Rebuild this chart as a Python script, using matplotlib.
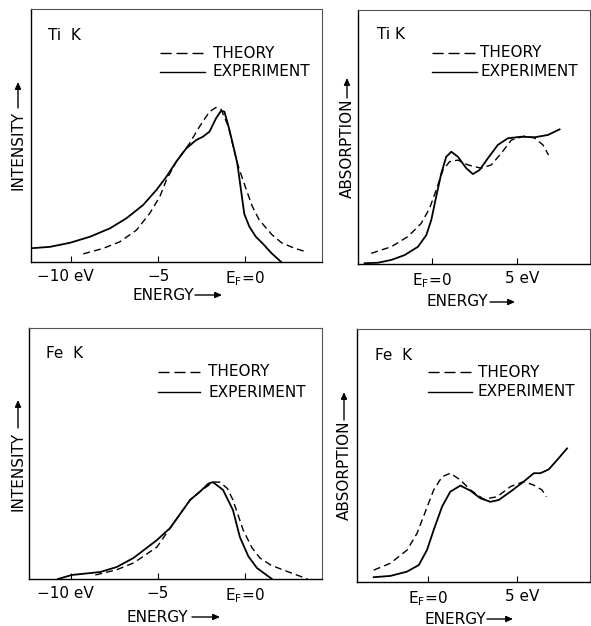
import numpy as np
import matplotlib
matplotlib.use('Agg')
import matplotlib.pyplot as plt
import matplotlib.transforms as mtransforms

# ---- data (energy in eV, intensity in arbitrary units) ----
ti_emis_exp_e = [-12.34, -11.2, -10.06, -8.91, -7.77, -6.82, -5.87, -5.1, -4.53, -3.96, -3.39,
                 -2.82, -2.44, -2.06, -1.68, -1.39, -1.2, -0.91, -0.46, -0.06, 0.23, 0.6,
                 0.97, 1.5, 2.06]
ti_emis_exp_i = [0.054, 0.06, 0.076, 0.1, 0.133, 0.173, 0.225, 0.285, 0.337, 0.397, 0.449,
                 0.482, 0.495, 0.515, 0.568, 0.598, 0.594, 0.522, 0.39, 0.19, 0.14, 0.1,
                 0.075, 0.035, 0.0]
ti_emis_th_e = [-9.3, -8.15, -7.2, -6.25, -5.49, -4.91, -4.53, -3.96, -3.2, -2.63, -2.06,
                -1.68, -1.39, -1.0, -0.74, -0.46, 0.06, 0.4, 0.8, 1.54, 2.1, 2.8, 3.5]
ti_emis_th_i = [0.032, 0.054, 0.08, 0.126, 0.192, 0.258, 0.324, 0.397, 0.469, 0.535, 0.594,
                0.611, 0.603, 0.54, 0.47, 0.39, 0.285, 0.22, 0.166, 0.107, 0.075, 0.055, 0.04]

ti_abs_exp_e = [-3.96, -3.18, -2.39, -1.61, -0.82, -0.33, -0.04, 0.25, 0.55, 0.84, 1.14, 1.53,
                2.02, 2.41, 2.8, 3.29, 3.88, 4.47, 5.25, 6.04, 6.82, 7.51]
ti_abs_exp_i = [0.003, 0.005, 0.016, 0.035, 0.068, 0.114, 0.173, 0.265, 0.357, 0.422, 0.442,
                0.422, 0.377, 0.354, 0.37, 0.416, 0.469, 0.495, 0.501, 0.499, 0.508, 0.53]
ti_abs_th_e = [-3.57, -2.39, -1.41, -0.63, -0.14, 0.25, 0.65, 1.04, 1.53, 2.12, 2.9, 3.49,
               4.08, 4.67, 5.45, 6.04, 6.53, 6.86]
ti_abs_th_i = [0.042, 0.068, 0.108, 0.16, 0.219, 0.291, 0.37, 0.403, 0.409, 0.39, 0.377, 0.39,
               0.436, 0.488, 0.504, 0.496, 0.469, 0.429]

fe_emis_exp_e = [-10.75, -9.95, -8.3, -7.36, -6.4, -5.06, -4.3, -3.15, -2.6, -2.1, -1.84,
                 -1.26, -0.69, -0.29, 0.2, 0.69, 1.55]
fe_emis_exp_i = [0.0, 0.016, 0.028, 0.048, 0.084, 0.155, 0.203, 0.315, 0.347, 0.38, 0.386,
                 0.355, 0.275, 0.167, 0.09, 0.044, 0.0]
fe_emis_th_e = [-8.6, -7.4, -6.4, -5.06, -4.3, -3.15, -2.6, -1.84, -1.44, -1.0, -0.69, -0.1,
                0.4, 0.86, 1.5, 2.2, 3.6]
fe_emis_th_i = [0.016, 0.036, 0.064, 0.127, 0.203, 0.315, 0.347, 0.386, 0.386, 0.36, 0.315,
                0.195, 0.125, 0.084, 0.055, 0.036, 0.0]

fe_abs_exp_e = [-3.05, -2.12, -1.18, -0.52, -0.06, 0.32, 0.79, 1.25, 1.82, 2.38, 2.94, 3.5,
                3.97, 4.63, 5.38, 5.94, 6.31, 6.78, 7.25, 7.81]
fe_abs_exp_i = [0.019, 0.024, 0.041, 0.067, 0.126, 0.206, 0.298, 0.357, 0.381, 0.361, 0.331,
                0.317, 0.324, 0.357, 0.397, 0.43, 0.43, 0.445, 0.482, 0.528]
fe_abs_th_e = [-3.05, -2.12, -1.18, -0.62, -0.15, 0.32, 0.79, 1.25, 1.82, 2.38, 3.13, 3.88,
               4.63, 5.38, 5.94, 6.4, 6.65]
fe_abs_th_i = [0.047, 0.074, 0.126, 0.192, 0.278, 0.364, 0.416, 0.43, 0.403, 0.364, 0.327,
               0.337, 0.377, 0.397, 0.383, 0.364, 0.337]

emis_ticks = [-10, -5, 0]
emis_ticklabels = ['\u221210 eV', '\u22125', 'E$_\\mathregular{F}$=0']
abs_ticks = [0, 5]
abs_ticklabels = ['E$_\\mathregular{F}$=0', '5 eV']

W, H = 591, 626
plt.rcParams['font.family'] = ['DejaVu Sans']
plt.rcParams['font.size'] = 11
plt.rcParams['lines.scale_dashes'] = False

fig = plt.figure(figsize=(W / 100, H / 100), dpi=100)

DASH = (0, (5, 3))


def make_ax(left, right, top, bottom):
    return fig.add_axes([left / W, 1 - bottom / H, (right - left) / W, (bottom - top) / H])


def style_ax(ax, xlim, ticks, labels, offsets):
    ax.set_xlim(xlim)
    ax.set_ylim(0, 1)
    ax.set_yticks([])
    ax.set_xticks(ticks)
    ax.set_xticklabels(labels)
    ax.tick_params(axis='x', direction='in', length=4, width=0.8, pad=5, labelsize=11)
    for lab, dx in zip(ax.get_xticklabels(), offsets):
        lab.set_transform(lab.get_transform() +
                          mtransforms.ScaledTranslation(dx / 100, 0, fig.dpi_scale_trans))
    for s in ['left', 'bottom']:
        ax.spines[s].set_linewidth(1.0)
    for s in ['top', 'right']:
        ax.spines[s].set_linewidth(0.8)
        ax.spines[s].set_color('#555555')


def legend_block(ax, name, name_xy, x0, x1, y_th, y_ex, tx):
    ax.text(name_xy[0], name_xy[1], name, transform=ax.transAxes, ha='left', va='center')
    ax.plot([x0, x1], [y_th, y_th], transform=ax.transAxes, color='black', lw=1.0,
            linestyle=(0, (8, 3.5)))
    ax.plot([x0, x1], [y_ex, y_ex], transform=ax.transAxes, color='black', lw=1.0)
    ax.text(tx, y_th, 'THEORY', transform=ax.transAxes, ha='left', va='center')
    ax.text(tx, y_ex, 'EXPERIMENT', transform=ax.transAxes, ha='left', va='center')


def fig_label(text, x, y, rot=0):
    fig.text(x / W, 1 - y / H, text, rotation=rot, ha='left' if rot == 0 else 'center',
             va='center', fontsize=11)


def fig_arrow(x0, y0, x1, y1):
    fig.add_artist(matplotlib.patches.FancyArrowPatch(
        (x0 / W, 1 - y0 / H), (x1 / W, 1 - y1 / H), transform=fig.transFigure,
        arrowstyle='-|>,head_length=4,head_width=1.8', color='black', lw=1.0,
        mutation_scale=1, shrinkA=0, shrinkB=0))


def curves(ax, e_exp, i_exp, e_th, i_th):
    ax.plot(e_exp, i_exp, color='black', lw=1.3, solid_joinstyle='round')
    ax.plot(e_th, i_th, color='black', lw=1.0, linestyle=DASH)


# Ti K emission
ax1 = make_ax(31, 322, 9, 262)
curves(ax1, ti_emis_exp_e, ti_emis_exp_i, ti_emis_th_e, ti_emis_th_i)
style_ax(ax1, (-12.3, 4.4), emis_ticks, emis_ticklabels, [-6, 0, 0])
legend_block(ax1, 'Ti  K', (0.058, 0.897), 0.443, 0.598, 0.826, 0.751, 0.625)

# Ti K absorption
ax2 = make_ax(358, 590, 10, 264)
curves(ax2, ti_abs_exp_e, ti_abs_exp_i, ti_abs_th_e, ti_abs_th_i)
style_ax(ax2, (-4.35, 9.3), abs_ticks, abs_ticklabels, [0, 5])
legend_block(ax2, 'Ti K', (0.082, 0.902), 0.319, 0.513, 0.831, 0.756, 0.526)

# Fe K emission
ax3 = make_ax(29, 322, 328, 579)
curves(ax3, fe_emis_exp_e, fe_emis_exp_i, fe_emis_th_e, fe_emis_th_i)
style_ax(ax3, (-12.41, 4.43), emis_ticks, emis_ticklabels, [-6, 0, 0])
legend_block(ax3, 'Fe  K', (0.058, 0.90), 0.44, 0.584, 0.825, 0.745, 0.611)

# Fe K absorption
ax4 = make_ax(357, 590, 329, 582)
curves(ax4, fe_abs_exp_e, fe_abs_exp_i, fe_abs_th_e, fe_abs_th_i)
style_ax(ax4, (-3.99, 9.1), abs_ticks, abs_ticklabels, [0, 5])
legend_block(ax4, 'Fe  K', (0.077, 0.897), 0.305, 0.494, 0.83, 0.751, 0.519)

# axis labels with arrows
fig_label('INTENSITY', 18, 150, rot=90)
fig_arrow(18, 108, 18, 82)
fig_label('ABSORPTION', 347, 148, rot=90)
fig_arrow(347, 98, 347, 78)
fig_label('INTENSITY', 18, 471, rot=90)
fig_arrow(18, 428, 18, 400)
fig_label('ABSORPTION', 344, 470, rot=90)
fig_arrow(344, 420, 344, 392)

fig_label('ENERGY', 133, 295)
fig_arrow(195, 295, 222, 295)
fig_label('ENERGY', 427, 302)
fig_arrow(490, 302, 515, 302)
fig_label('ENERGY', 127, 617)
fig_arrow(192, 617, 220, 617)
fig_label('ENERGY', 425, 619)
fig_arrow(487, 619, 513, 619)

fig.savefig('out.png', dpi=100, facecolor='white')
